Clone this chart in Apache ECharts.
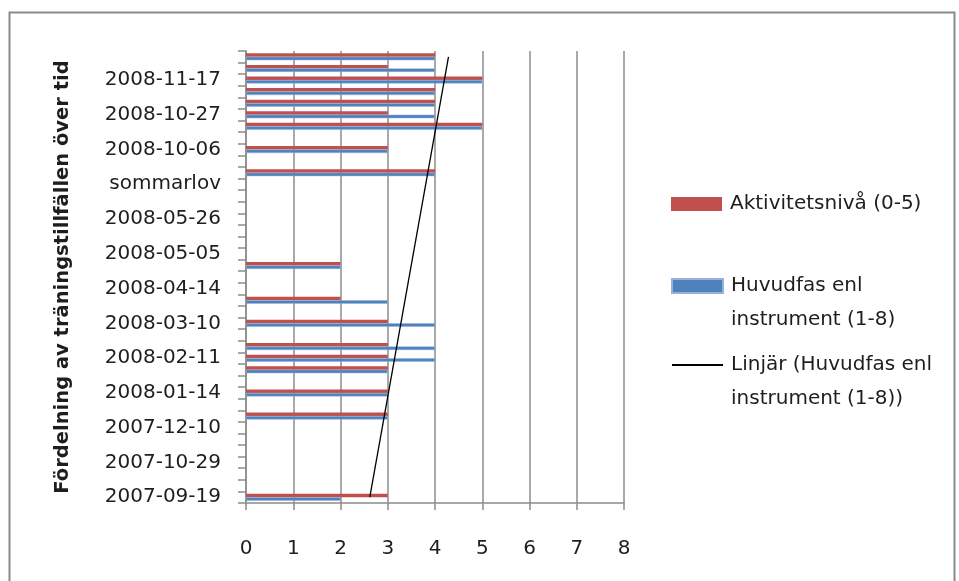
<!DOCTYPE html>
<html>
<head>
<meta charset="utf-8">
<title>Fördelning av träningstillfällen över tid</title>
<script src="https://cdn.jsdelivr.net/npm/echarts@6/dist/echarts.min.js"></script>
<style>
  html, body { margin: 0; padding: 0; background: #ffffff; }
  #chart { width: 959px; height: 581px; }
</style>
</head>
<body>
<div id="chart"></div>
<script>
// Training sessions, oldest at the bottom of the axis
const categories = [
  '2007-09-19', '2007-10-01', '2007-10-15', '2007-10-29', '2007-11-12', '2007-11-26',
  '2007-12-10', '2007-12-17', '2008-01-07', '2008-01-14', '2008-01-21', '2008-02-04',
  '2008-02-11', '2008-02-18', '2008-03-03', '2008-03-10', '2008-03-17', '2008-03-31',
  '2008-04-14', '2008-04-21', '2008-04-28', '2008-05-05', '2008-05-12', '2008-05-19',
  '2008-05-26', '2008-06-02', '2008-06-09', 'sommarlov', '2008-08-25', '2008-09-15',
  '2008-10-06', '2008-10-13', '2008-10-20', '2008-10-27', '2008-11-03', '2008-11-10',
  '2008-11-17', '2008-11-24', '2008-12-01'
];

// Aktivitetsnivå (0-5) per session
const activityLevel = [
  3, null, null, null, null, null,
  null, 3, null, 3, null, 3,
  3, 3, null, 3, null, 2,
  null, null, 2, null, null, null,
  null, null, null, null, 4, null,
  3, null, 5, 3, 4, 4,
  5, 3, 4
];

// Huvudfas enligt instrument (1-8) per session
const mainPhase = [
  2, null, null, null, null, null,
  null, 3, null, 3, null, 3,
  4, 4, null, 4, null, 3,
  null, null, 2, null, null, null,
  null, null, null, null, 4, null,
  3, null, 5, 4, 4, 4,
  5, 4, 4
];

const seriesNames = {
  activity: 'Aktivitetsnivå (0-5)',
  phase: 'Huvudfas enl instrument (1-8)',
  trend: 'Linjär (Huvudfas enl instrument (1-8))'
};
// Legend text, wrapped; the leading blank line keeps the first text line level with the key
const legendLabels = {
  'Aktivitetsnivå (0-5)': 'Aktivitetsnivå (0-5)',
  'Huvudfas enl instrument (1-8)': '\nHuvudfas enl\ninstrument (1-8)',
  'Linjär (Huvudfas enl instrument (1-8))': '\nLinjär (Huvudfas enl\ninstrument (1-8))'
};

// Least-squares linear trend of the main phase over session index
function linearTrend(values) {
  const pts = [];
  values.forEach((v, i) => { if (v != null) pts.push([i, v]); });
  const n = pts.length;
  let sx = 0, sy = 0, sxy = 0, sxx = 0;
  pts.forEach(([x, y]) => { sx += x; sy += y; sxy += x * y; sxx += x * x; });
  const slope = (n * sxy - sx * sy) / (n * sxx - sx * sx);
  const intercept = (sy - slope * sx) / n;
  const first = 0, last = values.length - 1;
  return [
    [intercept + slope * first, first],
    [intercept + slope * last, last]
  ];
}

const FONT = 'DejaVu Sans';
const TEXT = '#1e1e1e';
const GRID_GRAY = '#8c8c8c';
const LINE_H = 34;

const chart = echarts.init(document.getElementById('chart'), null, { renderer: 'canvas' });

const legendCommon = {
  orient: 'vertical',
  left: 671,
  padding: 0,
  itemWidth: 51,
  itemHeight: 14,
  selectedMode: false,
  formatter: name => legendLabels[name],
  textStyle: { fontFamily: FONT, fontSize: 20, color: TEXT, lineHeight: LINE_H, padding: [0, 0, 0, 3] }
};

chart.setOption({
  animation: false,
  backgroundColor: '#ffffff',
  graphic: [{
    type: 'rect',
    shape: { x: 9.5, y: 12.5, width: 945, height: 620 },
    style: { fill: null, stroke: '#8a8a8a', lineWidth: 2 },
    silent: true
  }],
  legend: [
    Object.assign({}, legendCommon, {
      top: 204 - LINE_H / 2,
      icon: 'rect',
      data: [seriesNames.activity]
    }),
    Object.assign({}, legendCommon, {
      top: 286 - LINE_H * 1.5,
      icon: 'rect',
      data: [seriesNames.phase]
    }),
    Object.assign({}, legendCommon, {
      top: 365 - LINE_H * 1.5,
      itemStyle: { opacity: 0 },
      data: [seriesNames.trend]
    })
  ],
  grid: { left: 246, top: 51, width: 378, height: 452, containLabel: false },
  xAxis: {
    type: 'value',
    min: 0,
    max: 8,
    interval: 1,
    axisLine: { show: true, lineStyle: { color: GRID_GRAY, width: 1.5 } },
    axisTick: { show: true, length: 7, lineStyle: { color: GRID_GRAY, width: 1.5 } },
    axisLabel: { margin: 36, fontFamily: FONT, fontSize: 20, color: TEXT },
    splitLine: { show: true, lineStyle: { color: GRID_GRAY, width: 1.5 } }
  },
  yAxis: {
    type: 'category',
    data: categories,
    name: 'Fördelning av träningstillfällen över tid',
    nameLocation: 'middle',
    nameGap: 173,
    nameTextStyle: { fontFamily: FONT, fontSize: 19.5, fontWeight: 'bold', color: TEXT },
    axisLine: { show: true, lineStyle: { color: GRID_GRAY, width: 1.5 } },
    axisTick: { show: true, interval: 0, length: 8, lineStyle: { color: GRID_GRAY, width: 1.5 } },
    axisLabel: { interval: 2, margin: 25, fontFamily: FONT, fontSize: 20, color: TEXT },
    splitLine: { show: false }
  },
  series: [
    {
      name: seriesNames.activity,
      type: 'bar',
      data: activityLevel,
      barWidth: 3.5,
      barGap: '0%',
      itemStyle: { color: '#c0504d' }
    },
    {
      name: seriesNames.phase,
      type: 'bar',
      data: mainPhase,
      barWidth: 3.5,
      barGap: '0%',
      itemStyle: { color: '#4f81bd', borderColor: '#95b3d7', borderWidth: 0.5 }
    },
    {
      name: seriesNames.trend,
      type: 'line',
      data: linearTrend(mainPhase),
      symbol: 'none',
      z: 5,
      lineStyle: { color: '#000000', width: 1.3 },
      itemStyle: { color: '#000000' }
    }
  ]
});
</script>
</body>
</html>
